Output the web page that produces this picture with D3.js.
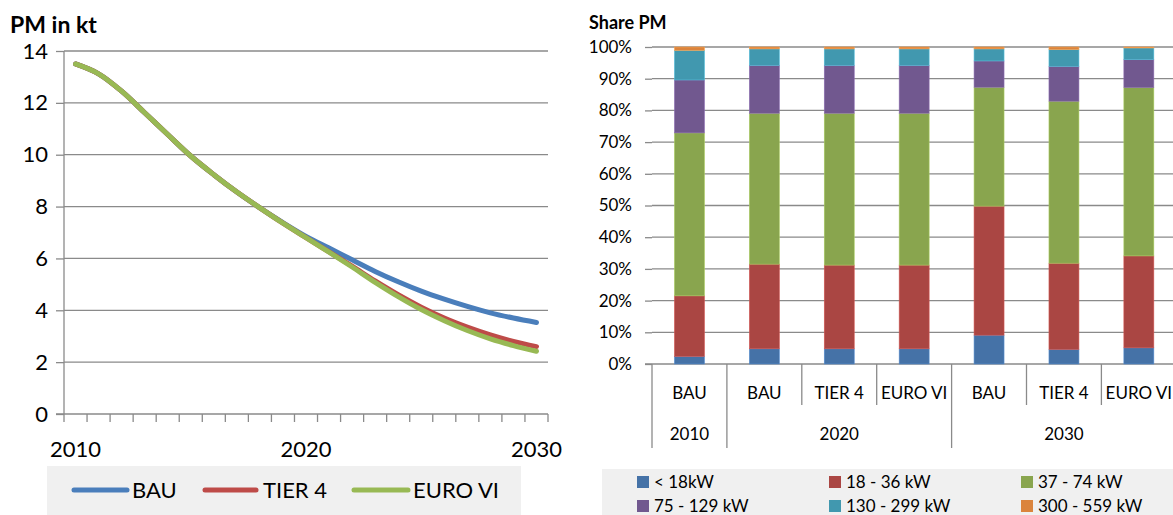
<!DOCTYPE html>
<html><head><meta charset="utf-8">
<script src="https://cdn.jsdelivr.net/npm/d3@7"></script>
<style>
html,body{margin:0;padding:0;background:#fff;}
svg{display:block;font-family:Lato,"Open Sans",sans-serif;}
</style></head>
<body>
<svg id="c" width="1173" height="515"></svg>
<script>
// ---------- data ----------
const years = d3.range(2010, 2031);
const yearLabels = [2010, 2020, 2030];
const bau    = [13.5,13.12,12.45,11.62,10.78,9.95,9.23,8.56,7.95,7.38,6.85,6.4,5.95,5.5,5.1,4.74,4.43,4.15,3.9,3.7,3.53];
const tier4  = [13.5,13.12,12.45,11.62,10.78,9.95,9.23,8.56,7.95,7.36,6.8,6.25,5.7,5.13,4.6,4.12,3.7,3.35,3.05,2.8,2.6];
const euro6  = [13.5,13.12,12.45,11.62,10.78,9.95,9.23,8.56,7.95,7.36,6.8,6.24,5.67,5.08,4.53,4.03,3.6,3.22,2.9,2.64,2.42];
const lineSeries = ["BAU", "TIER 4", "EURO VI"];
const yTicksLeft = [0,2,4,6,8,10,12,14];

const barScenarios = ["BAU","BAU","TIER 4","EURO VI","BAU","TIER 4","EURO VI"];
const barGroups = [{label:"2010", n:1},{label:"2020", n:3},{label:"2030", n:3}];
const classes = ["< 18kW","18 - 36 kW","37 - 74 kW","75 - 129 kW","130 - 299 kW","300 - 559 kW"];
const sLt18   = [2.4, 4.8, 4.8, 4.8, 9.1, 4.6, 5.1];
const s18_36  = [19.1,26.7,26.4,26.4,40.7,27.2,29.0];
const s37_74  = [51.4,47.6,47.9,47.9,37.5,51.1,53.1];
const s75_129 = [16.7,15.1,15.1,15.1, 8.3,11.0, 8.8];
const s130_299= [9.35,5.2, 5.2, 5.2, 3.8, 5.3, 3.7];
const s300_559= [1.05,0.6, 0.6, 0.6, 0.6, 0.8, 0.3];
const yTicksRight = d3.range(0, 1.0001, 0.1);

// ---------- styles ----------
const lineColors = ["#4a7ebb","#be4b48","#98b954"];
const barColors = ["#4572a7","#aa4643","#89a54e","#71588f","#4198af","#db843d"];
const axisGray = "#8a8a8a";
const svg = d3.select("#c");

// ================= LEFT CHART =================
const xL = d3.scaleBand().domain(years).range([64, 548]);
const yL = d3.scaleLinear().domain([0,14]).range([414, 51]);
const L = svg.append("g");

L.append("text").attr("x",10).attr("y",33).attr("font-size",23).attr("font-weight","bold").text("PM in kt");

// gridlines
L.selectAll(".gl").data(yTicksLeft.filter(d=>d>0)).join("line")
  .attr("x1",64).attr("x2",548).attr("y1",d=>yL(d)).attr("y2",d=>yL(d))
  .attr("stroke",axisGray).attr("stroke-width",1.3);

const yAxL = d3.axisLeft(yL).tickValues(yTicksLeft).tickSize(8).tickPadding(8);
const gy = L.append("g").attr("transform","translate(64,0)").call(yAxL);
gy.select(".domain").remove();
gy.selectAll("line").attr("stroke",axisGray).attr("stroke-width",1.3);
gy.selectAll("text").attr("font-size",22).attr("fill","#000").attr("font-family","Lato");
L.append("line").attr("x1",64).attr("x2",64).attr("y1",yL(14)).attr("y2",414).attr("stroke",axisGray).attr("stroke-width",1.3);

// x axis
L.append("line").attr("x1",56).attr("x2",548).attr("y1",414).attr("y2",414).attr("stroke",axisGray).attr("stroke-width",1.3);
const bounds = years.map(d=>xL(d)).concat([xL.range()[1]]);
L.selectAll(".xt").data(bounds).join("line")
  .attr("x1",d=>d).attr("x2",d=>d).attr("y1",414).attr("y2",422)
  .attr("stroke",axisGray).attr("stroke-width",1.3);
L.selectAll(".xl").data(yearLabels).join("text")
  .attr("x",d=>xL(d)+xL.bandwidth()/2).attr("y",449).attr("dy","0.35em")
  .attr("text-anchor","middle").attr("font-size",22).text(d=>d);

// lines
const lineGen = d3.line().x((d,i)=>xL(years[i])+xL.bandwidth()/2).y(d=>yL(d)).curve(d3.curveCatmullRom.alpha(0.5));
[bau, tier4, euro6].forEach((s,k)=>{
  L.append("path").attr("d",lineGen(s)).attr("fill","none").attr("stroke",lineColors[k])
   .attr("stroke-width",5).attr("stroke-linecap","round").attr("stroke-linejoin","round");
});

// legend
L.append("rect").attr("x",47).attr("y",466).attr("width",474).attr("height",60).attr("fill","#f0f0f0");
const legX = [[74,127,132],[205,256,263],[354,408,413]];
lineSeries.forEach((name,k)=>{
  L.append("line").attr("x1",legX[k][0]).attr("x2",legX[k][1]).attr("y1",490).attr("y2",490)
   .attr("stroke",lineColors[k]).attr("stroke-width",5).attr("stroke-linecap","round");
  L.append("text").attr("x",legX[k][2]).attr("y",490).attr("dy","0.35em").attr("font-size",22).text(name);
});

// ================= RIGHT CHART =================
const R = svg.append("g");
const idx = d3.range(barScenarios.length);
const xR = d3.scaleBand().domain(idx).range([652, 652 + 7*74.9]).paddingInner(0.6).paddingOuter(0.3);
const yR = d3.scaleLinear().domain([0,1]).range([364, 47]);

R.append("text").attr("x",589).attr("y",29).attr("font-size",18).attr("font-weight","bold").text("Share PM");

R.selectAll(".gr").data(yTicksRight.filter(d=>d>0.001)).join("line")
  .attr("x1",652).attr("x2",1180).attr("y1",d=>yR(d)).attr("y2",d=>yR(d))
  .attr("stroke",axisGray).attr("stroke-width",1.3);

const yAxR = d3.axisLeft(yR).tickValues(yTicksRight).tickFormat(d3.format(".0%")).tickSize(7).tickPadding(13);
const gyr = R.append("g").attr("transform","translate(652,0)").call(yAxR);
gyr.select(".domain").remove();
gyr.selectAll("line").attr("stroke",axisGray).attr("stroke-width",1.3);
gyr.selectAll("text").attr("font-size",17).attr("fill","#000").attr("font-family","Lato");
R.append("line").attr("x1",645).attr("x2",1180).attr("y1",364).attr("y2",364).attr("stroke",axisGray).attr("stroke-width",1.3);

// stacked bars
const series = [sLt18, s18_36, s37_74, s75_129, s130_299, s300_559];
const table = idx.map(i=>{ const o={i}; classes.forEach((c,k)=>o[c]=series[k][i]/100); return o; });
const stacked = d3.stack().keys(classes)(table);
stacked.forEach((layer,k)=>{
  R.append("g").selectAll("rect").data(layer).join("rect")
    .attr("x",d=>xR(d.data.i)).attr("width",xR.bandwidth())
    .attr("y",d=>yR(d[1])).attr("height",d=>yR(d[0])-yR(d[1]))
    .attr("fill",barColors[k]).attr("stroke",d3.color(barColors[k]).brighter(0.6)).attr("stroke-width",0.6);
});

// category axis dividers
const step = xR.step();
const x0 = xR.range()[0];
let cum = 0; const outer = [0];
barGroups.forEach(g=>{ cum += g.n; outer.push(cum); });
idx.concat([idx.length]).forEach(j=>{
  const isOuter = outer.includes(j);
  R.append("line").attr("x1",x0+j*step).attr("x2",x0+j*step).attr("y1",364).attr("y2",isOuter?448:405)
   .attr("stroke",axisGray).attr("stroke-width",1.3);
});
R.selectAll(".cl").data(barScenarios).join("text")
  .attr("x",(d,i)=>xR(i)+xR.bandwidth()/2).attr("y",393).attr("dy","0.35em")
  .attr("text-anchor","middle").attr("font-size",17).text(d=>d);
let start = 0;
barGroups.forEach(g=>{
  const cx = x0 + (start + g.n/2)*step;
  R.append("text").attr("x",cx).attr("y",434).attr("dy","0.35em").attr("text-anchor","middle").attr("font-size",17).text(g.label);
  start += g.n;
});

// legend
R.append("rect").attr("x",602).attr("y",469).attr("width",600).attr("height",60).attr("fill","#f0f0f0");
classes.forEach((c,k)=>{
  const col = k%3, row = Math.floor(k/3);
  const lx = 637 + col*192, ly = row===0 ? 482 : 506;
  R.append("rect").attr("x",lx).attr("y",ly-6).attr("width",12).attr("height",12).attr("fill",barColors[k]);
  R.append("text").attr("x",lx+17).attr("y",ly).attr("dy","0.35em").attr("font-size",17).text(c);
});
</script>
</body></html>
